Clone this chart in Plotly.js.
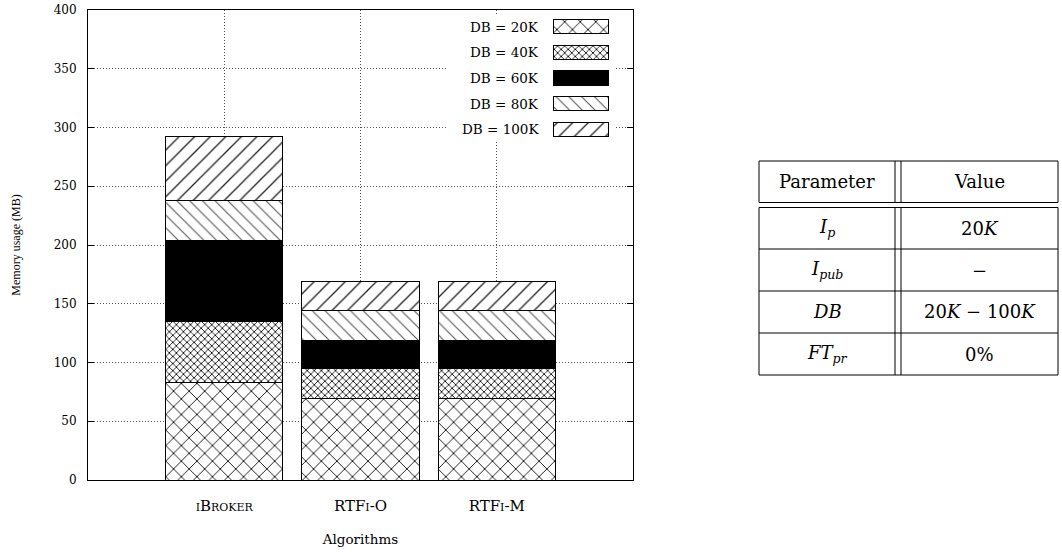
<!DOCTYPE html>
<html>
<head>
<meta charset="utf-8">
<script src="https://cdn.plot.ly/plotly-3.0.1.min.js"></script>
<style>html,body{margin:0;padding:0;background:#fff;}#chart{width:1062px;height:558px;}</style>
</head>
<body>
<div id="chart"></div>
<script>
// ---- data ----
const categories = ['iBroker', 'RTFi-O', 'RTFi-M'];
const seriesNames = ['DB = 20K', 'DB = 40K', 'DB = 60K', 'DB = 80K', 'DB = 100K'];
const db20K = [83, 69.5, 69.5];
const db40K = [52, 25, 25];
const db60K = [69, 24.5, 24.5];
const db80K = [34, 25, 25];
const db100K = [54, 25, 25];
const yTicks = [0, 50, 100, 150, 200, 250, 300, 350, 400];
const legendLength = [1];

const tableHeader = ['Parameter', 'Value'];
const tableParams = ['<i>I</i><sub><i>p</i></sub>', '<i>I</i><sub><i>pub</i></sub>', '<i>DB</i>', '<i>FT</i><sub><i>pr</i></sub>'];
const tableValues = ['20<i>K</i>', '−', '20<i>K</i> − 100<i>K</i>', '0%'];

// ---- styles ----
const FONT = 'DejaVu Serif';
const seriesValues = [db20K, db40K, db60K, db80K, db100K];
const markers = [
  {color: 'white', line: {color: 'black', width: 1}, pattern: {shape: 'x', fgcolor: 'black', bgcolor: 'white', size: 11, solidity: 0.15, fillmode: 'replace'}},
  {color: 'white', line: {color: 'black', width: 1}, pattern: {shape: 'x', fgcolor: 'black', bgcolor: 'white', size: 5, solidity: 0.3, fillmode: 'replace'}},
  {color: 'black', line: {color: 'black', width: 1}},
  {color: 'white', line: {color: 'black', width: 1}, pattern: {shape: '\\', fgcolor: '#555', bgcolor: 'white', size: 9, solidity: 0.12, fillmode: 'replace'}},
  {color: 'white', line: {color: 'black', width: 1}, pattern: {shape: '/', fgcolor: '#222', bgcolor: 'white', size: 11, solidity: 0.12, fillmode: 'replace'}}
];

const traces = [];
seriesValues.forEach((vals, i) => {
  traces.push({type: 'bar', x: categories, y: vals, name: seriesNames[i], width: 0.86,
    marker: markers[i], showlegend: false, hoverinfo: 'skip'});
});
// legend swatches drawn on a small secondary axis pair (its white background hides the grid)
seriesNames.forEach((n, i) => {
  traces.push({type: 'bar', orientation: 'h', x: legendLength, y: [n], xaxis: 'x2', yaxis: 'y2',
    width: 0.55, marker: markers[i], showlegend: false, hoverinfo: 'skip'});
});

// pixel -> paper helpers for the plot frame
const L = 88, R = 633, T = 10, B = 480;
const px = X => (X - L) / (R - L);
const py = Y => (B - Y) / (B - T);

// legend box geometry (pixels)
const LB = {x0: 448, x1: 616, y0: 14, y1: 142, swL: 553, swR: 608, textR: 541};
const swW = LB.swR - LB.swL;

const shapes = [];
// table
const tx = [759, 895, 901, 1058];
const tyHead = [161, 202.5];
const tyBody = [207.5, 249, 291, 333, 375];
const ln = {color: 'black', width: 1};
function hline(x0, x1, y) { shapes.push({type: 'line', xref: 'paper', yref: 'paper', x0: px(x0), x1: px(x1), y0: py(y), y1: py(y), line: ln}); }
function vline(x, y0, y1) { shapes.push({type: 'line', xref: 'paper', yref: 'paper', x0: px(x), x1: px(x), y0: py(y0), y1: py(y1), line: ln}); }
hline(tx[0], tx[3], tyHead[0]); hline(tx[0], tx[3], tyHead[1]);
tyBody.forEach(y => hline(tx[0], tx[3], y));
tx.forEach(x => { vline(x, tyHead[0], tyHead[1]); vline(x, tyBody[0], tyBody[tyBody.length - 1]); });

const annotations = [];
const colC = [(tx[0] + tx[1]) / 2, (tx[2] + tx[3]) / 2];
const tfont = {family: FONT, size: 18, color: 'black'};
tableHeader.forEach((h, j) => annotations.push({xref: 'paper', yref: 'paper', x: px(colC[j]), y: py((tyHead[0] + tyHead[1]) / 2),
  text: h, showarrow: false, font: tfont, xanchor: 'center', yanchor: 'middle'}));
tableParams.forEach((p, i) => {
  const yc = py((tyBody[i] + tyBody[i + 1]) / 2);
  annotations.push({xref: 'paper', yref: 'paper', x: px(colC[0]), y: yc, text: p, showarrow: false, font: tfont, xanchor: 'center', yanchor: 'middle'});
  annotations.push({xref: 'paper', yref: 'paper', x: px(colC[1]), y: yc, text: tableValues[i], showarrow: false, font: tfont, xanchor: 'center', yanchor: 'middle'});
});
// legend labels
seriesNames.forEach(n => annotations.push({xref: 'x2 domain', yref: 'y2', x: (LB.textR - LB.x0) / (LB.x1 - LB.x0), y: n,
  text: n, showarrow: false, xanchor: 'right', yanchor: 'middle', font: {family: FONT, size: 13.5, color: 'black'}}));

const gridStyle = {showgrid: true, gridcolor: '#555', griddash: '1px,2px', gridwidth: 1};

const layout = {
  width: 1062, height: 558,
  margin: {l: L, r: 1062 - R, t: T, b: 558 - B, pad: 0},
  paper_bgcolor: 'white', plot_bgcolor: 'white',
  barmode: 'stack',
  bargap: 0,
  showlegend: false,
  font: {family: FONT, color: 'black'},
  xaxis: Object.assign({
    type: 'category', range: [-1, 3], domain: [0, 1],
    showline: true, mirror: true, linecolor: 'black', linewidth: 1,
    ticks: '', tickfont: {family: FONT, size: 15, variant: 'small-caps'},
    ticklabelstandoff: 12,
    title: {text: 'Algorithms', font: {family: FONT, size: 13.5}, standoff: 20},
    zeroline: false
  }, gridStyle),
  yaxis: Object.assign({
    range: [0, 400], tickvals: yTicks, ticktext: yTicks.map(String),
    showline: true, mirror: 'ticks', linecolor: 'black', linewidth: 1,
    ticks: 'inside', ticklen: 6, tickcolor: 'black',
    tickfont: {family: FONT, size: 12},
    ticklabelstandoff: 8,
    title: {text: 'Memory usage (MB)', font: {family: 'Liberation Serif', size: 12}, standoff: 30},
    zeroline: false
  }, gridStyle),
  xaxis2: {domain: [px(LB.x0), px(LB.x1)], range: [-(LB.swL - LB.x0) / swW, (LB.x1 - LB.swL) / swW],
    anchor: 'y2', visible: false, fixedrange: true},
  yaxis2: {domain: [py(LB.y1), py(LB.y0)], anchor: 'x2', type: 'category',
    categoryorder: 'array', categoryarray: seriesNames, autorange: 'reversed',
    showgrid: false, showline: false, zeroline: false, ticks: '', showticklabels: false},
  shapes: shapes,
  annotations: annotations
};

Plotly.newPlot('chart', traces, layout, {displayModeBar: false, staticPlot: true});
</script>
</body>
</html>
